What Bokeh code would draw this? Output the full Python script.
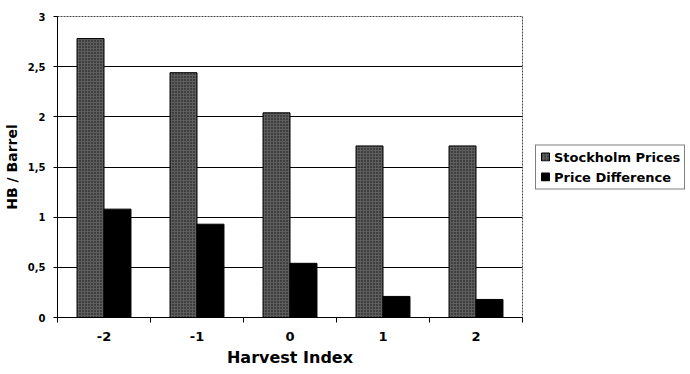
from bokeh.plotting import figure
from bokeh.models import (ColumnDataSource, Range1d, FixedTicker, Legend, LegendItem)
from bokeh.embed import file_html
from bokeh.resources import INLINE

# Harvest index categories and the two price series (HB per barrel)
categories = ["-2", "-1", "0", "1", "2"]
stockholm_prices = [2.78, 2.44, 2.04, 1.71, 1.71]
price_difference = [1.08, 0.93, 0.54, 0.21, 0.18]
y_ticks = [0, 0.5, 1, 1.5, 2, 2.5, 3]
y_tick_labels = ["0", "0,5", "1", "1,5", "2", "2,5", "3"]

FONT = "DejaVu Sans"
BAR_W = 0.29

centers = [i + 0.5 for i in range(len(categories))]
src = ColumnDataSource(dict(
    x_s=[c - BAR_W / 2 for c in centers],
    x_d=[c + BAR_W / 2 for c in centers],
    stockholm=stockholm_prices,
    diff=price_difference,
))

p = figure(frame_width=465, frame_height=301, output_backend="svg",
           toolbar_location=None,
           x_range=Range1d(0, len(categories)), y_range=Range1d(0, 3),
           min_border_left=57, min_border_right=0, min_border_top=16,
           min_border_bottom=57)

p.background_fill_color = "white"
p.border_fill_color = "white"
p.outline_line_color = "#444444"
p.outline_line_dash = "2 1"
p.outline_line_width = 1

r_s = p.vbar(x="x_s", top="stockholm", width=BAR_W, source=src,
             fill_color="#5e5e5e", line_color="black", line_width=1,
             hatch_pattern="dot", hatch_color="#111111", hatch_scale=3,
             hatch_weight=1)
r_d = p.vbar(x="x_d", top="diff", width=BAR_W, source=src,
             fill_color="black", line_color="black", line_width=1)

# y axis
p.yaxis.ticker = FixedTicker(ticks=y_ticks, minor_ticks=[])
p.yaxis.major_label_overrides = {t: l for t, l in zip(y_ticks, y_tick_labels)}
p.yaxis.major_tick_out = 4
p.yaxis.major_tick_in = 0
p.yaxis.major_tick_line_color = "black"
p.yaxis.major_label_standoff = 8
p.yaxis.major_label_text_font = FONT
p.yaxis.major_label_text_font_style = "bold"
p.yaxis.major_label_text_font_size = "10px"
p.yaxis.major_label_text_color = "black"
p.yaxis.axis_label = "HB / Barrel"
p.yaxis.axis_label_text_font = FONT
p.yaxis.axis_label_text_font_style = "bold"
p.yaxis.axis_label_text_font_size = "14px"
p.yaxis.axis_label_text_color = "black"
p.yaxis.axis_label_standoff = 5
p.yaxis.axis_line_color = "black"

# x axis: labels at category centres, tick marks at category boundaries
p.xaxis.ticker = FixedTicker(ticks=centers,
                             minor_ticks=list(range(len(categories) + 1)))
p.xaxis.major_label_overrides = {c: l for c, l in zip(centers, categories)}
p.xaxis.major_tick_out = 0
p.xaxis.major_tick_in = 0
p.xaxis.minor_tick_out = 5
p.xaxis.minor_tick_in = 0
p.xaxis.minor_tick_line_color = "black"
p.xaxis.major_label_standoff = 9
p.xaxis.major_label_text_font = FONT
p.xaxis.major_label_text_font_style = "bold"
p.xaxis.major_label_text_font_size = "13px"
p.xaxis.major_label_text_color = "black"
p.xaxis.axis_label = "Harvest Index"
p.xaxis.axis_label_text_font = FONT
p.xaxis.axis_label_text_font_style = "bold"
p.xaxis.axis_label_text_font_size = "16px"
p.xaxis.axis_label_text_color = "black"
p.xaxis.axis_label_standoff = 4
p.xaxis.axis_line_color = "black"

# grid
p.xgrid.visible = False
p.ygrid.ticker = FixedTicker(ticks=[0.5, 1, 1.5, 2, 2.5])
p.ygrid.grid_line_color = "black"
p.ygrid.grid_line_width = 1

legend = Legend(items=[
    LegendItem(label="Stockholm Prices", renderers=[r_s]),
    LegendItem(label="Price Difference", renderers=[r_d]),
], location="center_left")
legend.label_text_font = FONT
legend.label_text_font_style = "bold"
legend.label_text_font_size = "13px"
legend.label_text_color = "black"
legend.glyph_width = 10
legend.glyph_height = 10
legend.label_standoff = 4
legend.spacing = 5
legend.padding = 4
legend.margin = 13
legend.border_line_color = "black"
legend.border_line_width = 1
legend.background_fill_alpha = 1
p.add_layout(legend, "right")

open("out.html", "w").write(file_html(p, INLINE))
